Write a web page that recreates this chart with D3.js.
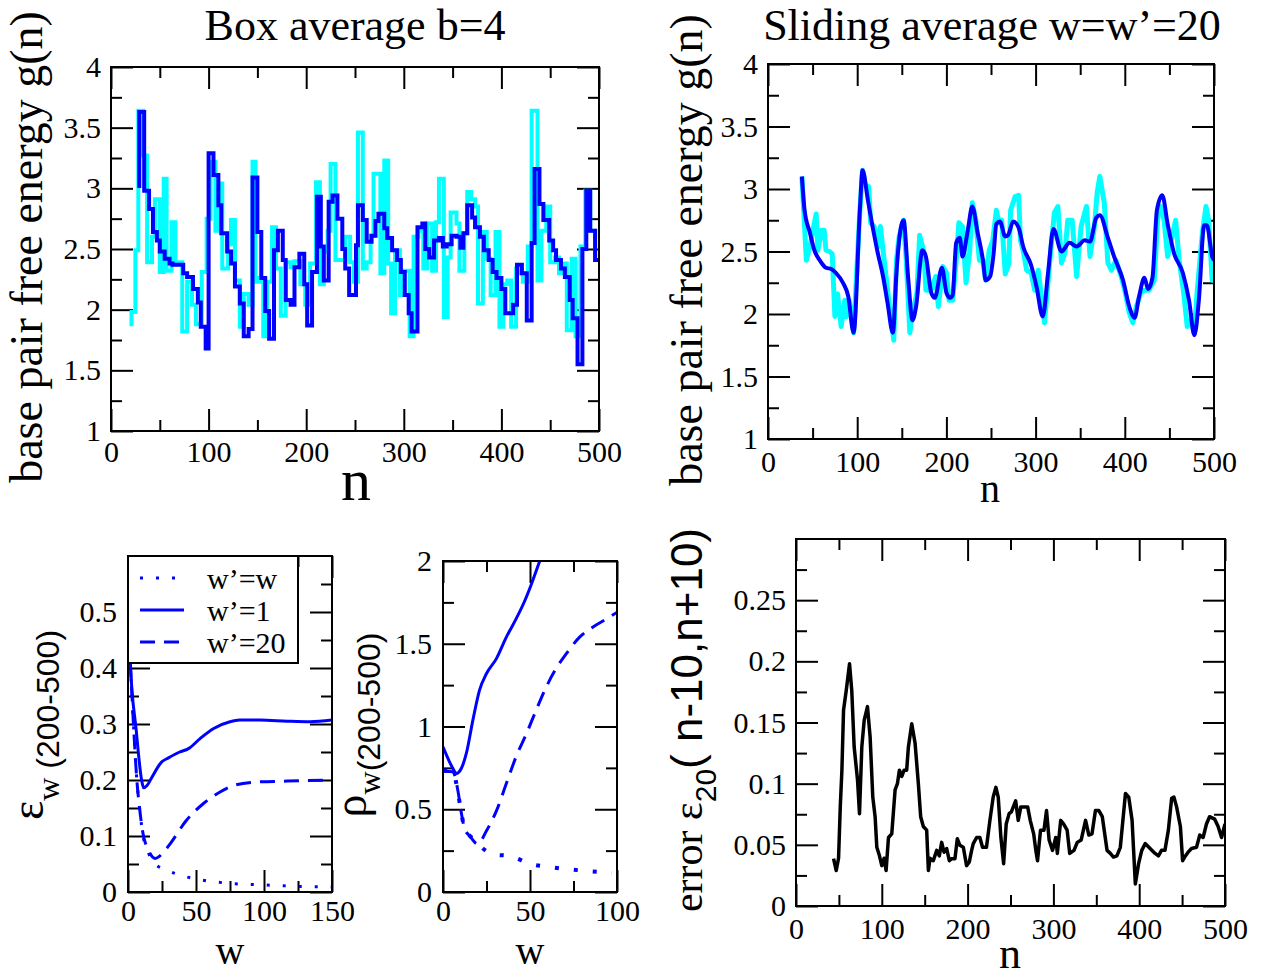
<!DOCTYPE html>
<html>
<head>
<meta charset="utf-8">
<script src="https://cdn.jsdelivr.net/npm/d3@7"></script>
<style>
  body { margin: 0; background: #fff; }
</style>
</head>
<body>
<svg id="chart" width="1261" height="978"></svg>
<script>
// ---- data ----
// box average panel: step boundaries (one more than values)
let boxRawN = [19,21,25,28,33,37,42,45,50,54,57,62,66,73,78,83,87,93,98,102,107,111,114,120,123,127,132,136,141,145,148,152,156,160,165,169,174,179,184,188,194,199,204,210,214,218,222,225,230,240,245,249,253,258,262,266,269,276,280,284,287,291,296,300,306,310,315,320,324,329,333,336,341,345,348,354,357,362,365,369,373,376,381,385,389,394,398,402,406,410,415,419,422,427,431,437,441,446,450,455,459,463,467,472,476,481,486,491,496,500];
let boxRawG = [1.88,1.98,2.49,3.64,3.27,2.39,2.60,2.91,2.31,3.08,2.32,2.72,2.39,1.82,2.23,2.04,1.88,2.31,2.75,3.22,2.65,3.04,2.34,2.54,2.74,2.24,1.86,2.13,2.04,3.22,2.23,2.26,1.78,2.23,2.68,2.34,1.95,2.39,2.35,2.40,2.21,2.04,2.38,3.05,2.21,2.48,2.65,3.20,2.41,2.60,2.39,2.23,3.46,2.34,2.39,2.61,3.12,2.30,3.23,2.38,1.97,2.49,2.12,2.32,1.78,2.60,2.65,2.34,2.71,2.32,2.72,3.08,1.94,2.43,2.80,2.71,2.32,2.63,2.97,2.91,2.85,2.05,2.64,2.42,2.12,2.64,1.86,2.21,2.24,1.86,2.34,2.30,2.23,2.52,3.64,2.24,2.65,2.85,2.39,2.43,2.30,2.38,1.83,2.42,1.78,2.52,2.98,2.65,2.41];
let boxAvgN = [27,29,34,39,43,47,50,55,60,63,74,78,84,89,92,97,100,105,110,113,119,123,127,132,136,141,145,150,154,158,162,167,171,176,179,184,188,193,198,201,206,211,215,218,223,227,232,237,240,244,251,253,258,262,267,271,274,280,283,288,293,297,301,305,308,314,319,322,326,331,336,340,344,349,354,358,361,365,370,373,378,382,387,391,395,400,404,412,416,421,426,431,434,439,443,449,453,456,461,465,470,473,478,483,487,491,496,500];
let boxAvgG = [3.02,3.63,2.98,2.83,2.64,2.57,2.48,2.42,2.38,2.37,2.30,2.27,2.17,2.06,1.86,1.68,3.29,3.11,2.86,2.63,2.48,2.38,2.19,2.05,1.78,1.84,3.09,2.64,2.26,1.99,1.76,2.49,2.65,2.41,2.08,2.04,2.35,2.46,2.21,1.87,2.31,2.93,2.52,2.24,2.89,2.94,2.75,2.50,2.34,2.12,2.53,2.86,2.74,2.56,2.61,2.73,2.79,2.67,2.59,2.49,2.41,2.31,2.12,1.97,1.82,2.68,2.71,2.50,2.43,2.57,2.59,2.52,2.54,2.61,2.60,2.51,2.63,2.86,2.76,2.68,2.60,2.49,2.41,2.31,2.26,2.17,1.97,2.04,2.37,2.30,1.91,2.55,3.16,2.87,2.74,2.57,2.49,2.41,2.34,2.27,2.08,1.93,1.55,2.50,2.98,2.65,2.41];

// sliding average panel
let slideRawN = [38,43,47,54,56,60,63,65,69,72,75,78,82,86,88,91,96,103,106,109,113,115,119,124,126,129,136,141,144,147,152,155,159,162,167,170,175,177,183,188,191,196,200,203,207,211,214,218,222,226,229,233,237,241,244,248,252,256,259,262,266,270,272,277,281,283,286,290,295,299,303,307,310,316,321,325,329,333,336,341,346,351,357,361,366,369,372,377,381,385,390,396,400,405,409,413,418,422,427,433,437,440,444,448,452,457,461,466,470,474,478,481,487,491,494,498,500];
let slideRawG = [3.10,2.43,2.54,2.80,2.51,2.67,2.67,2.51,2.50,2.48,1.98,2.16,1.90,2.11,1.98,2.11,1.85,2.83,3.15,3.03,3.02,2.73,2.70,2.54,2.70,2.51,2.07,1.79,2.43,2.62,2.75,2.43,1.85,2.01,2.17,2.63,2.49,2.19,2.19,2.30,2.06,2.38,2.33,2.11,2.11,2.43,2.73,2.70,2.25,2.49,2.89,2.75,2.43,2.43,2.27,2.51,2.59,2.83,2.73,2.75,2.32,2.40,2.83,2.94,2.95,2.59,2.51,2.35,2.33,2.19,2.35,2.11,1.93,2.43,2.81,2.86,2.41,2.49,2.75,2.75,2.30,2.70,2.86,2.46,2.70,2.97,3.10,2.89,2.41,2.35,2.43,2.30,2.19,2.01,1.93,2.06,2.17,2.19,2.19,2.27,2.78,2.86,2.75,2.46,2.59,2.75,2.43,2.17,1.90,1.95,1.85,2.17,2.65,2.86,2.75,2.27,2.40];
let slideAvgN = [38,41,47,52,58,65,71,76,84,90,96,103,106,112,118,123,129,134,140,144,147,152,157,162,166,173,177,183,187,195,200,204,207,211,215,218,224,229,235,241,244,249,253,256,260,266,269,275,281,286,295,301,308,314,320,329,338,346,355,361,368,372,381,388,398,405,411,416,422,426,431,436,442,448,455,465,472,478,483,489,492,498,500];
let slideAvgG = [3.10,2.83,2.65,2.51,2.43,2.37,2.36,2.33,2.25,2.14,1.85,2.83,3.15,2.91,2.67,2.49,2.30,2.09,1.85,2.33,2.59,2.75,2.30,1.95,2.06,2.51,2.46,2.17,2.13,2.37,2.17,2.13,2.15,2.57,2.61,2.46,2.67,2.86,2.65,2.43,2.27,2.30,2.49,2.72,2.74,2.62,2.63,2.74,2.69,2.54,2.39,2.22,1.98,2.33,2.68,2.50,2.57,2.54,2.59,2.58,2.77,2.79,2.61,2.46,2.27,2.06,1.97,2.14,2.29,2.20,2.29,2.83,2.95,2.72,2.49,2.33,2.11,1.83,2.11,2.71,2.71,2.46,2.43];

// error eps_w(200-500) vs w
let epsW_1 = [0,1.7,6,10,11.5,14,17.6,25,28.6,38,44.5,53,63,75,82,97,117,134,150];
let epsV_1 = [0.586,0.41,0.29,0.2,0.186,0.19,0.205,0.233,0.238,0.25,0.256,0.274,0.292,0.304,0.307,0.307,0.305,0.304,0.307];
let epsW_20 = [1.7,4,6.5,8.5,11,15,20,25,31,43,55.5,68,77.5,92,117,150];
let epsV_20 = [0.41,0.3,0.2,0.15,0.105,0.075,0.06,0.068,0.086,0.128,0.158,0.179,0.19,0.196,0.198,0.2];
let epsW_w = [1.7,4,6.5,8.5,11.5,15,19,28.6,43,58,77.5,102,126,150];
let epsV_w = [0.41,0.3,0.2,0.15,0.095,0.07,0.052,0.039,0.027,0.02,0.015,0.0125,0.01,0.009];

// rho_w(200-500) vs w
let rhoW_1 = [0,2.9,5.7,7.7,10.5,13.4,17.2,21,25,30.7,36.4,42,47,50.8,55.6,58];
let rhoV_1 = [0.877,0.806,0.746,0.716,0.746,0.837,1.04,1.22,1.32,1.41,1.54,1.65,1.76,1.86,2.0,2.07];
let rhoW_20 = [0,5.7,8.6,10.5,12.5,15.3,20,25,30.7,36.4,42,48,53.6,59.4,65,70.9,78.5,86,93.9,100];
let rhoV_20 = [0.73,0.726,0.61,0.48,0.38,0.34,0.29,0.37,0.49,0.655,0.817,0.958,1.10,1.24,1.35,1.44,1.54,1.60,1.65,1.69];
let rhoW_w = [0,5.7,8.6,10.5,12.5,16.3,20,28.7,39,49.8,61.3,72.8,83,94.8,97];
let rhoV_w = [0.736,0.726,0.6,0.48,0.38,0.33,0.29,0.228,0.216,0.171,0.151,0.137,0.127,0.117,0.115];

// error eps_20(n-10,n+10)
let errN = [43.8,46.9,49.6,51.6,53.5,55.4,58.5,62.4,65,67.8,71.7,74,76.7,79.5,83.3,86.4,89.5,92.2,94.2,97.3,100,102.7,105,107.8,111.6,115.5,118.2,120.5,123.3,126,129,131,134.9,138.8,142.6,145.3,148.4,152.3,154.3,156.2,160,164,167,169.8,172.5,175.6,178.7,181.4,185.3,188,191,195,198.8,202,204.7,206.6,210.5,214.3,217.4,222,226,229.8,233,235.7,238.8,242,245,248.4,251,256,259,262,266,270,273,277,279.5,281.5,285,289,292,295,299,302.7,304.6,308.5,312,316,319,324,327.8,332.4,337.5,341.3,345,349,353,357,362.5,366.4,370,374,378,384,387.8,391.7,395.5,399.3,403,407,412.7,418.5,422.4,426,430,434,437.8,440.5,443.6,448,450.6,453,457,461,466.8,470.6,474.5,478.4,482,488,492,496,500];
let errV = [0.0387,0.029,0.039,0.081,0.111,0.16,0.176,0.198,0.176,0.13,0.103,0.0755,0.13,0.152,0.163,0.138,0.089,0.073,0.048,0.041,0.033,0.039,0.029,0.056,0.059,0.095,0.10,0.111,0.106,0.111,0.111,0.13,0.149,0.133,0.10,0.073,0.065,0.062,0.029,0.039,0.037,0.0455,0.041,0.052,0.044,0.047,0.037,0.0387,0.0387,0.055,0.0496,0.048,0.033,0.036,0.0455,0.051,0.056,0.056,0.048,0.048,0.070,0.089,0.097,0.089,0.056,0.0346,0.067,0.0755,0.077,0.086,0.070,0.081,0.081,0.081,0.070,0.059,0.0455,0.037,0.062,0.062,0.078,0.054,0.0455,0.056,0.043,0.070,0.067,0.062,0.043,0.0455,0.052,0.054,0.070,0.058,0.059,0.078,0.078,0.073,0.0455,0.043,0.040,0.041,0.048,0.092,0.089,0.070,0.018,0.0346,0.0455,0.051,0.047,0.043,0.041,0.0455,0.0455,0.062,0.088,0.089,0.081,0.065,0.037,0.040,0.044,0.047,0.048,0.058,0.056,0.067,0.073,0.071,0.065,0.056,0.067];

// tick values
let nMajor = [0,100,200,300,400,500], nMinor = [50,150,250,350,450];
let gMajor = [1,1.5,2,2.5,3,3.5,4], gMinor = [1.25,1.75,2.25,2.75,3.25,3.75];
let epsXMajor = [0,50,100,150], epsXMinor = [25,75,125];
let epsYMajor = [0,0.1,0.2,0.3,0.4,0.5], epsYMinor = [0.05,0.15,0.25,0.35,0.45,0.55];
let rhoXMajor = [0,50,100], rhoXMinor = [25,75];
let rhoYMajor = [0,0.5,1,1.5,2], rhoYMinor = [0.25,0.75,1.25,1.75];
let errYMajor = [0,0.05,0.1,0.15,0.2,0.25], errYMinor = [0.025,0.075,0.125,0.175,0.225,0.275];

let legendLabels = ["w\u2019=w", "w\u2019=1", "w\u2019=20"];

// ---- drawing ----
const SERIF = "'Liberation Serif', 'Times New Roman', serif";
const SANS = "'Liberation Sans', Arial, sans-serif";
const svg = d3.select("#chart");
let clipId = 0;

function panel(c) {
  const x = d3.scaleLinear().domain(c.xd).range([c.left, c.right]);
  const y = d3.scaleLinear().domain(c.yd).range([c.bottom, c.top]);
  const g = svg.append("g");

  function ax(axisFn, tr, scale, vals, size, labels, pad) {
    const a = axisFn(scale).tickValues(vals).tickSize(-size).tickPadding(pad || 10)
      .tickFormat(labels ? (d => String(d)) : "");
    const sel = g.append("g").attr("transform", tr).call(a)
      .attr("font-family", null).attr("font-size", null);
    sel.select(".domain").remove();
    sel.selectAll("line").attr("stroke", "#000").attr("stroke-width", 2);
    sel.selectAll("text").style("font-size", "30px").style("font-family", SERIF).attr("fill", "#000");
    return sel;
  }
  ax(d3.axisBottom, `translate(0,${c.bottom})`, x, c.xMajor, 22, true, c.xPad);
  ax(d3.axisBottom, `translate(0,${c.bottom})`, x, c.xMinor, 11, false);
  ax(d3.axisTop, `translate(0,${c.top})`, x, c.xMajor, 22, false);
  ax(d3.axisTop, `translate(0,${c.top})`, x, c.xMinor, 11, false);
  ax(d3.axisLeft, `translate(${c.left},0)`, y, c.yMajor, 22, true, c.yPad);
  ax(d3.axisLeft, `translate(${c.left},0)`, y, c.yMinor, 11, false);
  ax(d3.axisRight, `translate(${c.right},0)`, y, c.yMajor, 22, false);
  ax(d3.axisRight, `translate(${c.right},0)`, y, c.yMinor, 11, false);

  const id = "clip" + (clipId++);
  svg.append("clipPath").attr("id", id).append("rect")
    .attr("x", c.left).attr("y", c.top)
    .attr("width", c.right - c.left).attr("height", c.bottom - c.top);
  const plot = g.append("g").attr("clip-path", `url(#${id})`);

  g.append("rect")
    .attr("x", c.left).attr("y", c.top)
    .attr("width", c.right - c.left).attr("height", c.bottom - c.top)
    .attr("fill", "none").attr("stroke", "#000").attr("stroke-width", 2);

  return { x, y, g, plot };
}

function series(p, xs, ys, opts) {
  const pts = xs.map((d, i) => [d, ys[i]]);
  const line = d3.line().x(d => p.x(d[0])).y(d => p.y(d[1])).curve(opts.curve || d3.curveLinear);
  p.plot.append("path")
    .attr("d", line(pts))
    .attr("fill", "none")
    .attr("stroke", opts.color)
    .attr("stroke-width", opts.width)
    .attr("stroke-dasharray", opts.dash || null)
    .attr("stroke-linejoin", opts.join || "round");
}

// step series: boundaries array has one more entry than values
function steps(p, bounds, vals, opts) {
  const ys = vals.concat([vals[vals.length - 1]]);
  series(p, bounds, ys, Object.assign({ curve: d3.curveStepAfter, join: "miter" }, opts));
}

// top-left: box average
const pTL = panel({ left: 111, right: 599, top: 67, bottom: 431, xd: [0, 500], yd: [1, 4],
  xMajor: nMajor, xMinor: nMinor, yMajor: gMajor, yMinor: gMinor, xPad: 10, yPad: 10 });
steps(pTL, boxRawN, boxRawG, { color: "#00ffff", width: 4 });
steps(pTL, boxAvgN, boxAvgG, { color: "#0000ff", width: 4 });

// top-right: sliding average
const pTR = panel({ left: 768, right: 1214, top: 64, bottom: 439, xd: [0, 500], yd: [1, 4],
  xMajor: nMajor, xMinor: nMinor, yMajor: gMajor, yMinor: gMinor, xPad: 12, yPad: 10 });
series(pTR, slideRawN, slideRawG, { color: "#00ffff", width: 5 });
series(pTR, slideAvgN, slideAvgG, { color: "#0000ff", width: 4, curve: d3.curveMonotoneX });

// bottom-left: eps_w
const pBL = panel({ left: 128, right: 332, top: 556, bottom: 892, xd: [0, 150], yd: [0, 0.6],
  xMajor: epsXMajor, xMinor: epsXMinor, yMajor: epsYMajor, yMinor: epsYMinor, xPad: 8, yPad: 11 });
series(pBL, epsW_w, epsV_w, { color: "#0000ff", width: 3, dash: "3,13", curve: d3.curveMonotoneX });
series(pBL, epsW_1, epsV_1, { color: "#0000ff", width: 3, curve: d3.curveMonotoneX });
series(pBL, epsW_20, epsV_20, { color: "#0000ff", width: 3, dash: "15,9", curve: d3.curveMonotoneX });

// legend
const lg = pBL.g.append("g");
lg.append("rect").attr("x", 128).attr("y", 556).attr("width", 170).attr("height", 107)
  .attr("fill", "#fff").attr("stroke", "#000").attr("stroke-width", 2);
const legDash = ["3,13", null, "15,9"];
legendLabels.forEach((t, i) => {
  const yy = 578 + i * 32;
  lg.append("line").attr("x1", 140).attr("x2", 184).attr("y1", yy).attr("y2", yy)
    .attr("stroke", "#0000ff").attr("stroke-width", 3).attr("stroke-dasharray", legDash[i]);
  lg.append("text").attr("x", 207).attr("y", yy + 11)
    .style("font-size", "30px").style("font-family", SERIF).text(t);
});

// bottom-middle: rho_w
const pBM = panel({ left: 443, right: 617, top: 561, bottom: 892, xd: [0, 100], yd: [0, 2],
  xMajor: rhoXMajor, xMinor: rhoXMinor, yMajor: rhoYMajor, yMinor: rhoYMinor, xPad: 8, yPad: 11 });
series(pBM, rhoW_w, rhoV_w, { color: "#0000ff", width: 4, dash: "4,15", curve: d3.curveMonotoneX });
series(pBM, rhoW_1, rhoV_1, { color: "#0000ff", width: 3, curve: d3.curveMonotoneX });
series(pBM, rhoW_20, rhoV_20, { color: "#0000ff", width: 3, dash: "15,9", curve: d3.curveMonotoneX });

// bottom-right: error
const pBR = panel({ left: 796, right: 1225, top: 539, bottom: 906, xd: [0, 500], yd: [0, 0.3],
  xMajor: nMajor, xMinor: nMinor, yMajor: errYMajor, yMinor: errYMinor, xPad: 12, yPad: 10 });
series(pBR, errN, errV, { color: "#000", width: 3.5 });

// ---- titles and axis labels ----
function label(x, y, size, txt, rot) {
  return svg.append("text")
    .attr("transform", `translate(${x},${y})` + (rot ? " rotate(-90)" : ""))
    .attr("text-anchor", "middle")
    .style("font-size", size + "px").style("font-family", SERIF)
    .text(txt);
}
label(355, 40, 44, "Box average b=4");
label(992, 40, 44, "Sliding average w=w\u2019=20");
label(42, 247, 46, "base pair free energy g(n)", true);
label(702, 250, 46, "base pair free energy g(n)", true);
label(356, 500, 60, "n");
label(990, 502, 40, "n");
label(230, 964, 40, "w");
label(530, 964, 40, "w");
label(1010, 968, 44, "n");

function span(t, txt, size, fam, dy) {
  const s = t.append("tspan").style("font-size", size + "px").style("font-family", fam).text(txt);
  if (dy) s.attr("dy", dy);
  return s;
}
function rotText(x, y) {
  return svg.append("text").attr("transform", `translate(${x},${y}) rotate(-90)`).attr("text-anchor", "middle");
}
// eps_w (200-500)
let t1 = rotText(43, 725);
span(t1, "\u03b5", 46, SERIF);
span(t1, "w", 32, SERIF, 16);
span(t1, " (200-500)", 32, SANS);
// rho_w(200-500)
let t2 = rotText(366, 725);
span(t2, "\u03c1", 46, SERIF);
span(t2, "w", 32, SERIF, 14);
span(t2, "(200-500)", 32, SANS);
// error eps_20( n-10,n+10)
let t3 = rotText(702, 720);
span(t3, "error \u03b5", 42, SERIF);
span(t3, "20", 30, SANS, 14);
span(t3, "( n-10,n+10)", 44, SANS, -14);
</script>
</body>
</html>
